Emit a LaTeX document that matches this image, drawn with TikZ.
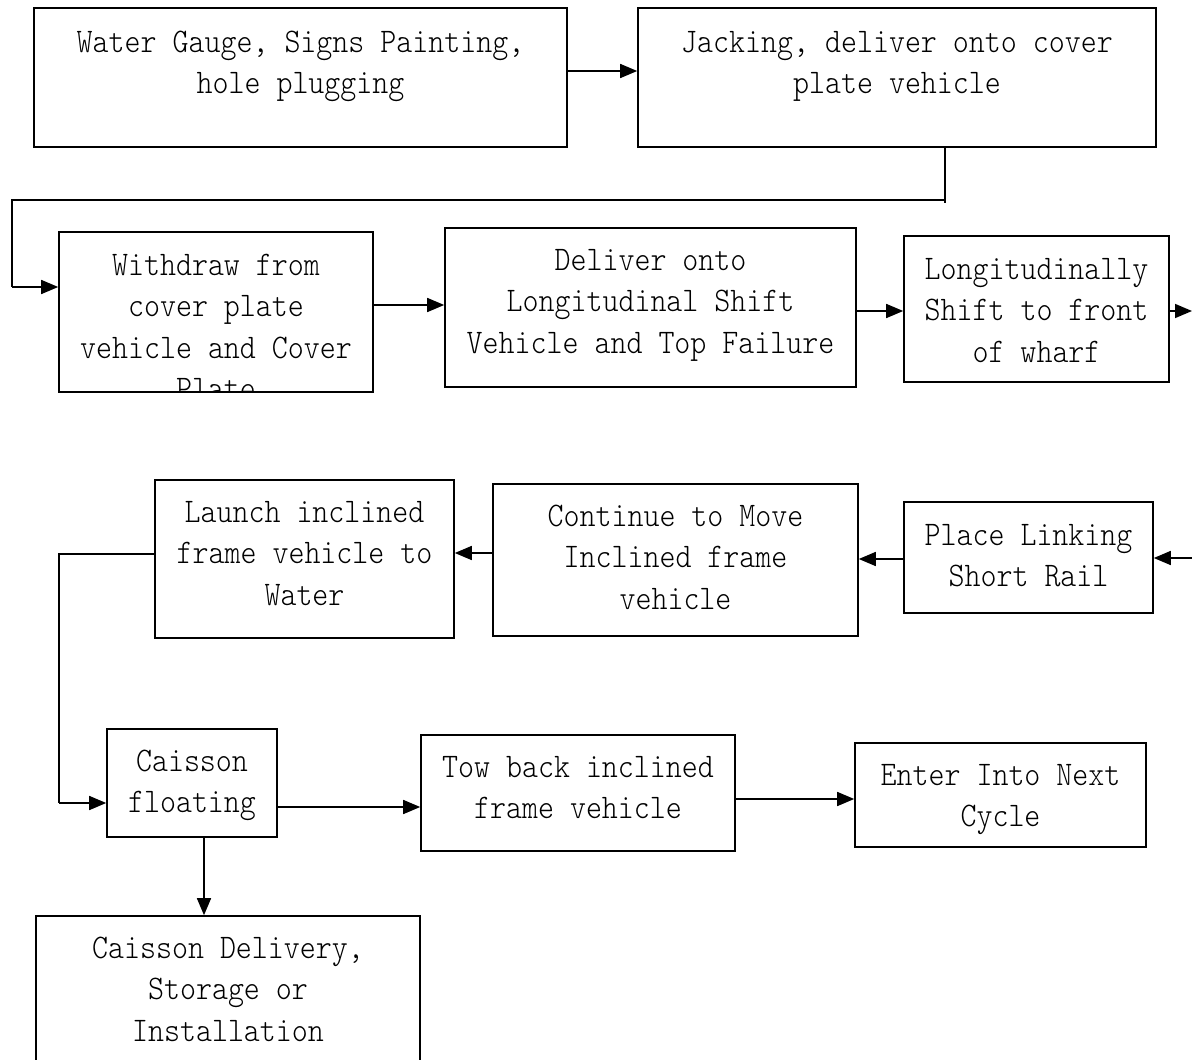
\documentclass[tikz,border=0pt]{standalone}
\usepackage{fontspec}
\newfontfamily\diagfont[FakeStretch=0.883]{lmmonolt10-regular.otf}
\usetikzlibrary{arrows.meta}
\newcommand{\lst}{\rule[-11.5pt]{0pt}{41.5pt}}
\begin{document}
\begin{tikzpicture}[x=1pt,y=-1pt,
  box/.style={draw,line width=1.6pt,inner sep=0pt,rectangle},
  txt/.style={anchor=north,inner sep=0pt,align=center,font=\diagfont\fontsize{34.5pt}{41.5pt}\selectfont},
  arr/.style={line width=1.6pt,-{Triangle[length=17pt,width=14pt]}},
  ln/.style={line width=1.6pt}]
\useasboundingbox (0,0) rectangle (1192,1060);
\clip (0,0) rectangle (1192,1060);
\fill[white] (0,0) rectangle (1192,1060);
% boxes
\node[box,minimum width=533pt,minimum height=139pt] (b1) at (300.5,77.5) {};
\node[box,minimum width=518pt,minimum height=139pt] (b2) at (897,77.5) {};
\node[box,minimum width=314pt,minimum height=160pt] (b3) at (216,312) {};
\node[box,minimum width=411pt,minimum height=159pt] (b4) at (650.5,307.5) {};
\node[box,minimum width=265pt,minimum height=146pt] (b5) at (1036.5,309) {};
\node[box,minimum width=249pt,minimum height=111pt] (b6) at (1028.5,557.5) {};
\node[box,minimum width=365pt,minimum height=152pt] (b7) at (675.5,560) {};
\node[box,minimum width=299pt,minimum height=158pt] (b8) at (304.5,559) {};
\node[box,minimum width=170pt,minimum height=108pt] (b9) at (192,783) {};
\node[box,minimum width=314pt,minimum height=116pt] (b10) at (578,793) {};
\node[box,minimum width=291pt,minimum height=104pt] (b11) at (1000.5,795) {};
\node[box,minimum width=384pt,minimum height=184pt] (b12) at (228,1008) {};
% texts
\node[txt] (t1) at (300.5,22) {\lst Water Gauge, Signs Painting,\\\lst hole plugging};
\node[txt] (t2) at (897,22) {\lst Jacking, deliver onto cover\\\lst plate vehicle};
\begin{scope}
\clip (b3.north west) rectangle (b3.south east);
\node[txt] (t3) at (216,245) {\lst Withdraw from\\\lst cover plate\\\lst vehicle and Cover\\\lst Plate};
\end{scope}
\node[txt] (t4) at (650.5,240) {\lst Deliver onto\\\lst Longitudinal Shift\\\lst Vehicle and Top Failure};
\node[txt] (t5) at (1036.5,249) {\lst Longitudinally\\\lst Shift to front\\\lst of wharf};
\node[txt] (t6) at (1028.5,515) {\lst Place Linking\\\lst Short Rail};
\node[txt] (t7) at (675.5,496) {\lst Continue to Move\\\lst Inclined frame\\\lst vehicle};
\node[txt] (t8) at (304.5,492) {\lst Launch inclined\\\lst frame vehicle to\\\lst Water};
\node[txt] (t9) at (192,741) {\lst Caisson\\\lst floating};
\node[txt] (t10) at (578,747) {\lst Tow back inclined\\\lst frame vehicle};
\node[txt] (t11) at (1000.5,755) {\lst Enter Into Next\\\lst Cycle};
\node[txt] (t12) at (228,928) {\lst Caisson Delivery,\\\lst Storage or\\\lst Installation};
% free ends
\coordinate (r1) at (1192,311);
\coordinate (r2) at (1192,558);
\coordinate (k1) at (945,200);
\coordinate (k2) at (12,200);
\coordinate (k3) at (12,287);
\coordinate (k4) at (59,554);
\coordinate (k5) at (59,803);
% connectors
\draw[arr] (b1.east |- 0,71) -- (b2.west |- 0,71);
\draw[ln] (b2.south -| k1) -- (945,203);
\draw[ln] (k1) -- (k2) -- (k3);
\draw[arr] (k3) -- (b3.west |- k3);
\draw[arr] (b3.east |- 0,305) -- (b4.west |- 0,305);
\draw[arr] (b4.east |- 0,311) -- (b5.west |- 0,311);
\draw[arr] (b5.east |- 0,311) -- (r1);
\draw[arr] (r2) -- (b6.east |- r2);
\draw[arr] (b6.west |- 0,559) -- (b7.east |- 0,559);
\draw[arr] (b7.west |- 0,553) -- (b8.east |- 0,553);
\draw[ln] (b8.west |- k4) -- (k4) -- (k5);
\draw[arr] (k5) -- (b9.west |- k5);
\draw[arr] (b9.east |- 0,807) -- (b10.west |- 0,807);
\draw[arr] (b10.east |- 0,799) -- (b11.west |- 0,799);
\draw[arr] (b9.south -| 204,0) -- (b12.north -| 204,0);
\end{tikzpicture}
\end{document}
